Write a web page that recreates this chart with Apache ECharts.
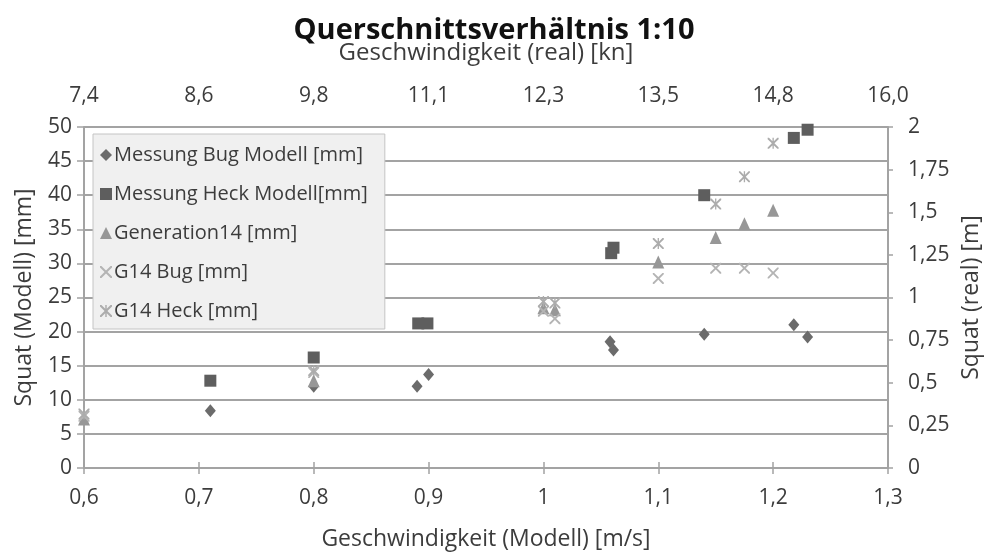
<!DOCTYPE html>
<html>
<head>
    <meta charset="utf-8"/>
    <title>Querschnittsverhältnis 1:10</title>
    <script src="https://cdn.jsdelivr.net/npm/echarts@6/dist/echarts.min.js"></script>
    <style type="text/css">
        body { margin: 0; background: #fff; }
        #main { width: 988px; height: 552px; }
    </style>
</head>
<body>
<div id="main"></div>
<script type="text/javascript">

    // Messwerte: [Geschwindigkeit Modell m/s, Squat mm]
    var bugModell = [[0.71, 8.4], [0.80, 12.0], [0.89, 12.0], [0.90, 13.7], [1.058, 18.5], [1.061, 17.3],
                     [1.14, 19.6], [1.218, 21.0], [1.23, 19.2]];
    var heckModell = [[0.71, 12.8], [0.80, 16.2], [0.891, 21.2], [0.899, 21.2], [1.059, 31.5], [1.061, 32.3],
                      [1.14, 40.0], [1.218, 48.4], [1.23, 49.6]];
    var generation14 = [[0.60, 7.2], [0.80, 12.8], [1.00, 23.5], [1.01, 23.2], [1.10, 30.2], [1.15, 33.8],
                        [1.175, 35.8], [1.20, 37.8]];
    var g14Bug = [[0.60, 7.6], [0.80, 14.0], [1.00, 23.0], [1.01, 21.9], [1.10, 27.8], [1.15, 29.3],
                  [1.175, 29.3], [1.20, 28.6]];
    var g14Heck = [[0.60, 7.9], [0.80, 14.3], [1.00, 24.4], [1.01, 24.2], [1.10, 32.9], [1.15, 38.7],
                   [1.175, 42.7], [1.20, 47.6]];

    var seriesNames = ['Messung Bug Modell [mm]', 'Messung Heck Modell[mm]', 'Generation14 [mm]',
                       'G14 Bug [mm]', 'G14 Heck [mm]'];
    var topLabels = ['7,4', '8,6', '9,8', '11,1', '12,3', '13,5', '14,8', '16,0'];

    var font = 'Open Sans';
    var gridGray = '#a3a3a3';
    var textGray = '#3c3c3c';

    var crossPath = 'path://M0,0 L1.2,0 L5,3.8 L8.8,0 L10,0 L10,1.2 L6.2,5 L10,8.8 L10,10 L8.8,10 L5,6.2 L1.2,10 L0,10 L0,8.8 L3.8,5 L0,1.2 Z';
    var starPath = crossPath + ' M4.4,0 L5.6,0 L5.6,10 L4.4,10 Z';

    function comma(v) {
        return String(Math.round(v * 100) / 100).replace('.', ',');
    }

    var myChart = echarts.init(document.getElementById('main'));

    var option = {
        backgroundColor: '#fff',
        animation: false,
        title: {
            text: 'Querschnittsverhältnis 1:10',
            left: 'center',
            top: 11,
            textStyle: { fontFamily: font, fontWeight: 'bold', fontSize: 29, color: '#111' }
        },
        legend: {
            orient: 'vertical',
            left: 93,
            top: 134,
            padding: [11, 17, 8, 7],
            itemGap: 19,
            itemWidth: 12,
            itemHeight: 12,
            backgroundColor: '#f0f0f0',
            borderColor: '#c4c4c4',
            borderWidth: 1,
            textStyle: { fontFamily: font, fontSize: 20, color: textGray, padding: [0, 0, 0, -3] },
            data: seriesNames
        },
        grid: { left: 84, right: 100, top: 127, bottom: 84, outerBoundsMode: 'none', containLabel: false },
        xAxis: [
            {
                type: 'value',
                position: 'bottom',
                min: 0.6,
                max: 1.3,
                interval: 0.1,
                name: 'Geschwindigkeit (Modell) [m/s]',
                nameLocation: 'middle',
                nameGap: 60,
                nameTextStyle: { fontFamily: font, fontSize: 23, color: textGray },
                axisLine: { lineStyle: { color: gridGray, width: 2 } },
                axisTick: { show: true, length: 6, lineStyle: { color: gridGray, width: 1.5 } },
                axisLabel: { fontFamily: font, fontSize: 21, color: textGray, margin: 20, formatter: comma },
                splitLine: { show: false }
            },
            {
                type: 'value',
                position: 'top',
                min: 0.6,
                max: 1.3,
                interval: 0.1,
                name: 'Geschwindigkeit (real) [kn]',
                nameLocation: 'middle',
                nameGap: 62,
                nameTextStyle: { fontFamily: font, fontSize: 24, color: textGray },
                axisLine: { lineStyle: { color: gridGray, width: 2 } },
                axisTick: { show: true, length: 6, lineStyle: { color: gridGray, width: 1.5 } },
                axisLabel: {
                    fontFamily: font, fontSize: 21, color: textGray, margin: 20,
                    formatter: function (v, i) { return topLabels[i]; }
                },
                splitLine: { show: false }
            }
        ],
        yAxis: [
            {
                type: 'value',
                min: 0,
                max: 50,
                interval: 5,
                name: 'Squat (Modell) [mm]',
                nameLocation: 'middle',
                nameGap: 48,
                nameTextStyle: { fontFamily: font, fontSize: 23, color: textGray },
                axisLine: { show: true, lineStyle: { color: gridGray, width: 2 } },
                axisTick: { show: true, length: 7, lineStyle: { color: gridGray, width: 1.5 } },
                axisLabel: { fontFamily: font, fontSize: 21, color: textGray, margin: 12 },
                splitLine: { show: true, lineStyle: { color: gridGray, width: 2 } }
            },
            {
                type: 'value',
                min: 0,
                max: 2,
                interval: 0.25,
                position: 'right',
                name: 'Squat (real) [m]',
                nameLocation: 'middle',
                nameGap: 62,
                nameTextStyle: { fontFamily: font, fontSize: 23, color: textGray },
                axisLine: { show: true, lineStyle: { color: gridGray, width: 2 } },
                axisTick: { show: true, length: 5, lineStyle: { color: gridGray, width: 1.5 } },
                axisLabel: { fontFamily: font, fontSize: 21, color: textGray, margin: 20, formatter: comma },
                splitLine: { show: false }
            }
        ],
        series: [
            {
                name: seriesNames[0], type: 'scatter', data: bugModell,
                symbol: 'diamond', symbolSize: [11, 13],
                itemStyle: { color: '#6b6b6b', opacity: 1 }
            },
            {
                name: seriesNames[1], type: 'scatter', data: heckModell,
                symbol: 'rect', symbolSize: 12,
                itemStyle: { color: '#5e5e5e', opacity: 1 }
            },
            {
                name: seriesNames[2], type: 'scatter', data: generation14,
                symbol: 'triangle', symbolSize: [12, 13],
                itemStyle: { color: '#979797', opacity: 1 }
            },
            {
                name: seriesNames[3], type: 'scatter', data: g14Bug,
                symbol: crossPath, symbolSize: 11,
                itemStyle: { color: '#b4b4b4', opacity: 1 }
            },
            {
                name: seriesNames[4], type: 'scatter', data: g14Heck,
                symbol: starPath, symbolSize: 11,
                itemStyle: { color: '#acacac', opacity: 1 }
            }
        ]
    };
    myChart.setOption(option);
</script>
</body>
</html>
